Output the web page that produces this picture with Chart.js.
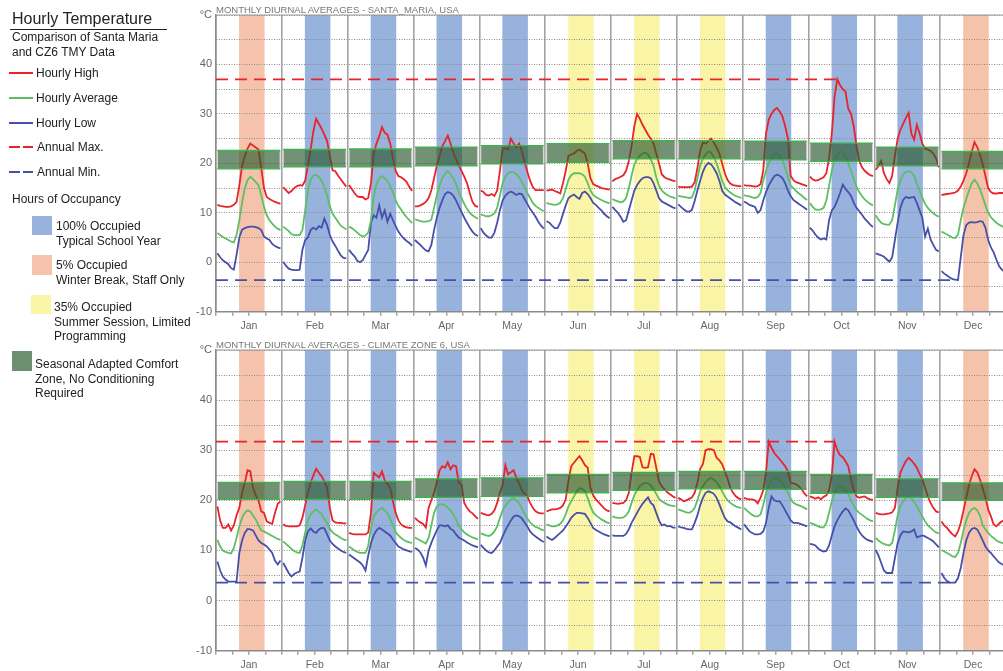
<!DOCTYPE html>
<html>
<head>
<meta charset="utf-8">
<script src="https://cdn.jsdelivr.net/npm/chart.js@4.4.0/dist/chart.umd.min.js"></script>
<style>
  html,body{margin:0;padding:0;background:#fff;overflow:hidden;width:1003px;height:671px;font-family:Arial,"Liberation Sans",sans-serif;color:#222}
  .lg{position:absolute;white-space:nowrap;font-size:12px;line-height:14.5px;z-index:2}
  .sw{position:absolute;z-index:2}
  .ptitle{position:absolute;left:216px;font-size:9.5px;color:#777;white-space:nowrap;z-index:2}
  canvas{position:absolute;left:150px}
</style>
</head>
<body>
<div id="legend">
  <div class="lg" style="left:12px;top:10px;font-size:16px;line-height:18px">Hourly Temperature</div>
  <div class="sw" style="left:10px;top:29px;width:157px;height:1px;background:#222"></div>
  <div class="lg" style="left:12px;top:30px">Comparison of Santa Maria<br>and CZ6 TMY Data</div>

  <div class="sw" style="left:9px;top:72px;width:24px;height:2px;background:#e8232a"></div>
  <div class="lg" style="left:36px;top:66px">Hourly High</div>
  <div class="sw" style="left:9px;top:97px;width:24px;height:2px;background:#5cbf62"></div>
  <div class="lg" style="left:36px;top:91px">Hourly Average</div>
  <div class="sw" style="left:9px;top:122px;width:24px;height:2px;background:#4650a8"></div>
  <div class="lg" style="left:36px;top:116px">Hourly Low</div>
  <div class="sw" style="left:9px;top:146px;width:11px;height:2px;background:#e8232a"></div>
  <div class="sw" style="left:23px;top:146px;width:10px;height:2px;background:#e8232a"></div>
  <div class="lg" style="left:37px;top:140px">Annual Max.</div>
  <div class="sw" style="left:9px;top:171px;width:11px;height:2px;background:#4650a8"></div>
  <div class="sw" style="left:23px;top:171px;width:10px;height:2px;background:#4650a8"></div>
  <div class="lg" style="left:37px;top:165px">Annual Min.</div>

  <div class="lg" style="left:12px;top:192px">Hours of Occupancy</div>
  <div class="sw" style="left:32px;top:216px;width:20px;height:19px;background:#98b2de"></div>
  <div class="lg" style="left:56px;top:219px">100% Occupied<br>Typical School Year</div>
  <div class="sw" style="left:32px;top:255px;width:20px;height:20px;background:#f5c3ab"></div>
  <div class="lg" style="left:56px;top:258px">5% Occupied<br>Winter Break, Staff Only</div>
  <div class="sw" style="left:31px;top:295px;width:20px;height:19px;background:#faf5a6"></div>
  <div class="lg" style="left:54px;top:300px">35% Occupied<br>Summer Session, Limited<br>Programming</div>
  <div class="sw" style="left:12px;top:351px;width:20px;height:20px;background:#6e8e71"></div>
  <div class="lg" style="left:35px;top:357px">Seasonal Adapted Comfort<br>Zone, No Conditioning<br>Required</div>
</div>

<div class="ptitle" style="top:4px">MONTHLY DIURNAL AVERAGES - SANTA_MARIA, USA</div>
<div class="ptitle" style="top:339px">MONTHLY DIURNAL AVERAGES - CLIMATE ZONE 6, USA</div>

<canvas id="topChart" width="860" height="340" style="top:0"></canvas>
<canvas id="botChart" width="860" height="336" style="top:335px"></canvas>

<script>
// ---- data (°C, 24 hourly values per month) ----
const monthLabels = ['Jan','Feb','Mar','Apr','May','Jun','Jul','Aug','Sep','Oct','Nov','Dec'];
// occupancy type per month: school / winter / summer
const occupancy = ['winter','school','school','school','school','summer','summer','summer','school','school','school','winter'];

// Santa Maria
const smHigh = [
  [11.6,11.4,11.3,11.2,11.2,11.3,11.6,12.2,15.5,19.5,21.5,23.0,24.0,23.6,23.2,22.8,19.0,15.0,13.2,12.8,12.5,12.2,12.0,11.8],
  [15.2,14.6,14.0,14.4,15.0,15.4,15.6,15.5,16.5,19.5,22.8,26.5,29.0,28.0,27.0,25.8,24.5,21.5,18.6,18.4,17.5,16.8,16.0,15.3],
  [15.6,14.8,14.0,13.3,13.2,13.2,12.7,13.0,16.0,22.0,24.0,25.5,27.3,26.2,25.8,24.0,21.0,18.5,17.4,17.2,16.8,16.2,15.2,14.4],
  [11.3,11.3,11.5,11.8,12.2,13.0,14.5,17.0,19.5,21.5,23.5,24.5,25.6,24.0,22.2,20.8,19.6,18.5,17.3,16.0,14.0,12.2,11.4,11.2],
  [14.5,14.2,13.6,13.5,13.8,13.4,14.5,18.5,23.0,23.0,22.8,25.0,24.0,23.3,24.0,22.5,20.2,18.3,16.5,15.2,14.6,14.6,14.6,14.6],
  [14.5,14.6,14.7,14.4,14.2,13.9,16.0,18.5,21.5,21.8,22.0,22.5,22.8,22.4,22.0,20.0,17.0,15.8,15.5,15.3,15.0,14.9,14.8,14.7],
  [16.4,16.8,17.0,17.3,17.6,18.5,20.5,23.5,27.5,30.0,29.0,27.8,26.8,25.8,25.0,24.0,22.0,20.0,17.8,17.2,16.9,16.7,16.5,16.4],
  [15.3,15.2,15.2,15.2,15.2,15.3,16.2,19.0,22.5,24.2,24.0,24.5,25.0,24.2,23.2,22.0,20.0,18.0,16.6,15.9,15.6,15.5,15.4,15.4],
  [15.6,15.5,15.5,15.4,15.3,15.4,15.8,18.5,26.0,28.8,30.0,30.8,31.2,30.5,29.5,27.5,25.0,17.5,16.6,16.2,16.0,15.8,15.6,15.4],
  [17.3,16.8,16.5,16.6,16.9,17.2,18.0,21.0,26.0,33.5,37.0,35.8,35.0,34.5,31.0,30.0,27.5,23.5,20.5,19.2,18.5,18.0,17.6,17.4],
  [18.7,19.4,20.5,18.0,16.8,16.0,17.5,21.5,25.0,26.8,28.0,29.2,30.2,26.0,24.8,27.8,26.1,24.0,23.0,22.8,22.5,22.0,21.0,19.2],
  [13.6,13.7,13.8,13.9,14.0,14.1,14.5,15.3,16.5,18.0,20.0,22.3,24.3,23.3,21.8,19.8,17.5,15.0,14.2,13.9,13.9,14.0,14.0,14.0]
];
const smAvg = [
  [5.9,5.5,5.1,4.8,4.5,4.2,4.0,5.5,8.5,12.0,15.0,16.6,17.3,16.8,16.2,15.6,13.5,11.2,9.5,8.5,7.8,7.2,6.8,6.5],
  [7.2,6.8,6.3,5.7,5.5,5.5,5.5,6.5,10.5,14.5,16.7,17.5,17.7,17.2,16.5,15.2,13.5,11.3,9.8,9.0,8.2,7.4,7.0,6.6],
  [7.2,6.9,6.5,6.0,5.5,5.2,5.4,6.0,8.5,13.3,15.8,17.0,17.4,17.0,16.4,15.4,14.2,12.5,11.4,10.6,9.8,9.1,8.5,7.9],
  [8.7,8.5,8.3,8.2,8.2,8.3,8.6,11.0,13.5,15.5,17.0,18.0,18.4,17.8,17.0,15.8,14.2,13.0,11.8,10.8,10.0,9.5,9.1,8.8],
  [9.7,9.5,9.3,9.3,9.5,9.9,11.0,13.5,16.0,17.3,18.0,18.3,18.2,17.8,17.2,16.2,15.2,14.0,13.0,12.0,11.4,11.0,10.6,10.3],
  [12.0,11.8,11.7,11.6,11.7,12.0,13.0,14.8,16.7,17.6,18.0,18.0,18.0,17.8,17.3,16.0,14.5,13.6,13.2,12.9,12.6,12.3,12.1,11.9],
  [12.8,12.5,12.3,12.1,12.3,13.0,15.0,17.5,19.8,20.8,21.5,22.0,22.2,21.8,20.8,19.5,17.2,15.5,14.5,14.0,13.6,13.3,13.1,12.9],
  [13.4,13.3,13.2,13.1,13.0,13.1,14.5,17.0,19.5,21.0,21.8,22.4,22.2,21.2,20.0,18.3,16.5,15.2,14.6,14.1,13.7,13.4,13.2,13.0],
  [13.6,13.4,13.3,13.1,13.0,13.2,14.0,16.5,18.5,20.0,21.0,21.8,22.1,21.5,20.6,19.0,17.2,15.5,15.0,14.4,13.9,13.5,13.0,12.6],
  [12.0,11.2,10.7,10.6,10.7,11.0,12.5,15.5,18.5,20.5,21.8,22.4,22.2,21.3,20.0,18.5,16.8,15.3,14.2,13.4,12.7,12.2,11.8,11.5],
  [9.5,8.6,8.0,7.7,7.6,7.6,8.5,11.5,14.7,16.5,17.7,18.3,18.4,18.2,17.5,15.8,14.5,13.0,11.8,11.0,10.4,9.9,9.5,9.2],
  [6.2,5.9,5.6,5.3,5.0,4.9,5.6,8.5,11.0,12.8,14.5,16.0,16.7,16.0,14.8,13.2,11.5,10.0,9.1,8.5,8.0,7.6,7.3,7.0]
];
const smLow = [
  [1.8,1.0,0.4,0.0,-0.4,-1.2,-1.5,1.5,5.0,6.6,6.9,7.1,7.2,7.2,7.1,6.9,6.5,5.2,4.8,4.5,3.7,3.3,3.0,2.8],
  [0.1,-0.7,-1.3,-1.5,-1.6,-1.6,-1.5,2.5,4.5,5.0,6.5,7.0,6.6,7.3,7.0,8.8,7.5,5.5,4.2,3.3,2.3,1.4,0.9,0.8],
  [2.5,1.8,1.2,0.3,0.0,0.4,1.5,2.5,8.0,9.5,9.0,11.5,9.0,10.5,8.2,9.8,8.5,7.3,6.2,5.4,4.8,4.3,3.9,3.3],
  [4.5,4.0,3.5,2.9,2.4,2.2,3.5,6.5,9.0,11.0,12.5,13.8,14.2,14.0,13.5,12.5,11.3,10.2,9.0,8.0,7.0,6.2,5.6,5.3],
  [6.9,6.0,5.4,5.0,5.0,6.0,8.0,10.5,12.5,13.5,14.0,14.3,14.0,13.6,13.9,13.8,12.8,11.8,10.8,10.0,9.2,8.2,7.4,6.8],
  [8.3,8.0,7.4,6.9,6.9,8.0,9.8,11.5,13.0,13.4,13.7,13.2,12.8,14.0,14.3,13.8,13.0,12.0,11.6,11.0,10.5,9.8,9.3,8.9],
  [11.2,10.6,10.0,9.2,8.2,8.5,10.5,12.5,14.5,15.6,16.4,17.0,17.2,17.2,17.0,16.0,14.5,13.0,12.3,12.0,11.7,11.4,11.1,10.9],
  [11.7,11.2,10.7,10.3,10.2,10.6,12.4,14.5,16.5,18.3,19.5,20.1,19.8,19.0,18.0,16.5,14.5,13.7,13.3,12.9,12.5,12.1,11.8,11.5],
  [12.3,12.0,11.6,11.4,11.2,10.0,10.5,12.5,14.2,15.5,16.5,17.4,17.7,17.5,17.0,16.0,14.5,13.4,12.6,12.2,11.8,11.4,11.0,10.6],
  [7.0,6.4,5.6,5.0,4.6,4.8,4.6,8.5,10.5,11.2,12.5,14.0,15.7,14.8,14.2,13.4,12.0,11.0,10.3,9.6,8.8,8.2,7.6,7.1],
  [1.8,1.6,1.4,1.1,0.6,0.1,1.0,4.5,8.0,11.0,12.6,13.2,13.0,13.1,13.2,12.0,10.5,9.0,5.2,6.8,4.6,3.5,2.5,2.2],
  [-1.8,-2.3,-2.7,-3.1,-3.4,-3.5,-3.6,1.0,5.5,7.5,8.0,8.1,8.0,8.1,8.3,8.2,7.0,4.5,3.0,2.0,0.5,-0.8,-1.5,-2.0]
];
const smComfortLo = [18.9,19.3,19.3,19.5,19.9,20.2,20.9,20.9,20.7,20.4,19.5,18.9];
const smComfortHi = [22.6,22.8,22.9,23.3,23.6,24.0,24.6,24.6,24.5,24.1,23.3,22.4];

// Climate Zone 6
const czHigh = [
  [18.8,16.0,14.5,14.5,15.2,14.0,15.0,17.0,18.5,21.5,23.5,26.0,25.8,22.5,21.0,20.0,17.8,17.5,15.8,15.5,15.3,17.5,19.3,19.8],
  [15.2,14.9,14.8,14.8,14.8,14.8,15.0,16.5,19.0,21.5,23.5,25.0,26.3,25.5,24.8,23.8,22.5,18.5,16.0,15.6,15.5,15.5,15.4,15.4],
  [13.5,13.3,13.2,13.2,13.2,13.2,13.2,13.6,17.5,25.5,25.0,24.6,25.8,24.0,23.3,22.5,19.8,17.5,16.0,15.2,14.8,14.6,14.5,14.5],
  [16.5,16.0,15.6,15.3,14.6,18.5,20.0,21.5,23.5,26.0,26.8,26.5,27.6,26.2,27.0,26.8,23.5,23.2,19.5,18.5,17.8,17.4,16.8,16.3],
  [17.5,17.3,17.1,17.0,17.3,18.0,19.5,21.5,23.0,27.0,25.2,25.6,26.0,24.5,23.4,22.0,21.3,20.8,19.5,18.5,17.8,17.5,17.4,17.4],
  [17.8,18.0,18.2,18.2,18.3,18.5,19.0,20.2,24.0,26.8,27.5,28.2,28.8,28.0,27.0,26.5,22.5,21.0,20.2,19.6,19.0,18.4,18.0,17.8],
  [19.5,19.4,19.3,19.4,19.5,20.0,21.5,25.5,28.8,28.8,28.7,26.6,26.5,26.6,29.3,29.2,26.5,23.8,22.8,22.2,21.6,21.2,20.8,20.5],
  [20.5,20.2,19.8,20.0,20.3,20.6,21.5,23.5,26.3,27.2,30.0,30.2,30.2,30.0,28.5,28.0,27.2,25.8,24.3,22.5,21.5,20.8,20.4,20.2],
  [20.5,20.3,20.2,20.2,20.0,19.4,20.5,22.0,25.5,31.7,30.5,29.5,28.8,28.2,27.5,26.8,25.8,23.5,23.4,23.2,22.8,22.2,21.4,20.8],
  [20.8,20.6,20.3,20.6,20.2,20.7,21.0,22.0,25.0,31.7,30.0,29.0,28.6,27.8,26.8,24.2,22.0,20.8,20.5,20.7,20.8,20.4,20.2,20.1],
  [17.5,17.3,17.2,17.2,17.3,17.4,17.6,18.5,22.5,25.5,26.8,27.8,28.5,28.0,27.3,26.5,25.3,24.2,22.5,20.8,19.5,18.5,17.8,17.6],
  [15.8,15.0,14.5,13.8,13.2,12.8,13.8,15.5,18.0,20.5,23.0,24.8,26.2,25.6,24.2,22.4,20.5,18.2,16.8,15.2,14.8,15.4,15.8,16.0]
];
const czAvg = [
  [12.1,10.8,10.0,9.7,9.5,9.4,10.5,12.5,14.8,16.5,17.5,18.0,17.8,17.0,16.2,15.0,14.0,13.8,13.5,13.2,12.9,12.6,12.3,12.1],
  [11.8,11.3,10.8,10.3,9.9,9.6,9.5,11.0,13.5,16.0,17.2,17.8,18.2,17.7,17.2,16.3,15.5,14.3,13.6,13.2,12.9,12.5,12.2,12.0],
  [10.8,10.4,10.0,9.7,9.5,9.5,9.5,11.0,14.5,16.8,17.6,18.2,18.5,18.0,17.4,16.3,15.0,13.6,13.0,12.5,12.1,11.8,11.6,11.5],
  [12.6,12.3,12.0,11.7,11.4,12.5,15.0,17.5,18.8,19.2,19.2,19.0,18.6,18.0,17.2,16.2,15.0,14.2,13.6,13.2,12.9,12.6,12.4,12.2],
  [13.4,13.2,13.0,12.9,13.2,13.8,14.8,16.5,18.0,18.9,19.6,20.2,20.5,20.0,19.4,18.4,17.4,16.4,15.6,15.1,14.7,14.5,14.2,14.0],
  [15.2,15.0,14.8,14.8,15.0,15.3,16.0,17.2,18.8,19.8,20.8,21.8,22.4,22.3,21.8,20.5,18.8,17.6,17.0,16.6,16.2,15.9,15.6,15.4],
  [16.8,16.6,16.5,16.5,16.6,17.0,17.8,19.5,21.0,22.0,22.8,23.3,23.5,23.4,23.0,22.2,21.3,20.3,19.8,19.5,19.2,19.0,18.9,18.8],
  [18.2,18.0,17.8,17.6,17.5,17.8,18.5,20.0,21.8,22.8,23.6,24.2,24.5,24.1,23.6,22.8,21.8,20.8,20.0,19.5,19.1,18.8,18.6,18.5],
  [18.5,18.0,17.5,17.1,16.8,16.8,17.2,19.0,21.5,23.0,24.0,24.4,24.5,24.0,23.4,22.5,21.5,20.3,19.5,19.2,19.0,18.8,18.5,18.2],
  [15.5,15.3,15.1,14.8,14.6,14.6,15.5,17.5,19.8,21.5,22.3,22.8,22.7,22.0,21.3,20.0,19.0,18.0,17.5,17.1,16.7,16.3,16.0,15.8],
  [12.5,12.0,11.6,11.3,11.1,11.0,11.5,14.0,17.0,18.8,19.8,20.5,20.8,20.4,19.7,18.8,17.8,16.8,15.8,15.0,14.5,14.0,13.6,13.4],
  [10.1,9.8,9.5,9.2,8.8,8.7,9.5,11.5,14.0,16.0,17.5,18.2,18.5,18.0,17.0,15.0,14.2,13.5,12.9,12.5,12.0,11.7,11.5,11.3]
];
const czLow = [
  [7.8,6.0,4.8,4.2,3.8,3.8,3.8,3.8,9.5,12.0,13.5,14.3,14.2,14.0,13.0,12.0,11.5,11.2,10.8,10.2,9.5,8.0,7.2,8.0],
  [7.5,6.5,5.5,4.8,5.3,5.6,5.8,8.5,12.0,13.8,14.4,13.8,13.5,14.2,14.5,14.4,13.2,12.0,11.3,10.8,10.4,10.0,9.7,9.5],
  [9.2,8.8,8.4,8.0,7.6,7.0,6.0,9.0,11.5,13.0,14.0,14.5,14.2,13.8,13.4,13.0,12.2,11.5,10.8,10.5,10.2,10.0,9.8,9.7],
  [10.5,10.2,9.6,8.6,7.0,10.0,11.5,12.8,14.0,15.0,15.0,14.8,15.0,14.3,14.0,13.2,12.6,12.3,12.0,11.6,11.3,11.0,10.8,10.6],
  [11.1,10.5,10.0,9.6,9.5,10.0,10.8,11.5,12.8,14.0,15.0,16.0,16.8,17.0,16.8,16.4,15.6,14.8,13.8,13.2,12.8,12.4,12.0,11.7],
  [12.8,12.4,12.1,12.5,13.0,13.5,14.0,14.8,15.6,16.5,17.1,17.5,17.5,17.4,17.3,16.5,15.5,14.5,14.1,13.8,13.5,13.2,13.0,12.8],
  [13.0,12.9,12.9,12.9,12.9,13.3,14.2,15.5,16.5,17.5,18.5,19.3,20.0,20.6,19.5,19.0,17.5,16.0,15.0,15.2,14.8,14.9,14.6,14.5],
  [14.8,14.6,14.5,14.3,14.2,14.2,15.5,17.0,19.0,20.5,21.5,21.8,21.6,21.3,20.5,19.2,17.8,16.5,15.8,15.6,15.2,14.8,14.5,14.2],
  [15.2,14.5,13.8,13.5,13.2,13.2,13.3,13.8,15.5,18.5,20.8,20.0,19.8,19.8,19.0,18.0,17.0,16.0,15.5,15.5,15.4,15.2,15.0,14.8],
  [11.3,11.2,11.0,10.4,10.0,9.8,9.9,11.0,13.0,14.8,16.0,17.0,17.8,18.4,18.0,17.0,16.0,14.8,13.8,13.0,12.5,12.1,11.9,11.7],
  [10.1,9.0,7.5,6.0,5.5,5.5,5.5,8.5,11.5,13.0,13.8,13.7,13.6,13.8,14.2,12.6,12.8,13.0,12.8,12.5,12.2,11.8,11.2,10.6],
  [5.5,4.5,3.9,3.6,3.6,3.6,4.5,6.5,9.5,12.0,13.5,14.3,14.5,14.2,13.2,12.0,10.8,10.0,9.5,8.8,8.2,7.6,7.3,7.0]
];
const czComfortLo = [20.2,20.2,20.2,20.6,20.8,21.5,22.0,22.3,22.2,21.4,20.6,20.0];
const czComfortHi = [23.6,23.8,23.8,24.3,24.5,25.2,25.6,25.8,25.8,25.2,24.3,23.5];

// ---- styles ----
const RED = '#e8232a', GREEN = '#5cbf62', BLUE = '#4650a8';
const OCC_COLORS = {school:'#98b2de', winter:'#f5c3ab', summer:'#faf5a6'};
const HOURS = 24;

function toPoints(months){
  const pts = [];
  months.forEach((vals, m) => {
    vals.forEach((v, h) => pts.push({x: m*HOURS + h + 0.5, y: v}));
    pts.push({x: m*HOURS + HOURS, y: null});
  });
  return pts;
}

// position of the annual extreme (last occurrence)
function extreme(months, isMax){
  let best = isMax ? -Infinity : Infinity, pos = 0;
  months.forEach((vals, m) => vals.forEach((v, h) => {
    if (isMax ? v >= best : v <= best){ best = v; pos = m*HOURS + h + 0.5; }
  }));
  return {value: best, x: pos};
}

function makePanel(canvasId, high, avg, low, comfortLo, comfortHi, axisHeight){
  const mx = extreme(high, true), mn = extreme(low, false);

  const bands = {
    id: 'bands',
    beforeDraw(chart){
      const {ctx, chartArea:a, scales:{x}} = chart;
      ctx.save();
      occupancy.forEach((t, m) => {
        const x0 = x.getPixelForValue(m*HOURS + 8.4), x1 = x.getPixelForValue(m*HOURS + 17.7);
        ctx.fillStyle = OCC_COLORS[t];
        ctx.fillRect(x0, a.top, x1 - x0, a.bottom - a.top);
      });
      ctx.restore();
    },
    afterDatasetsDraw(chart){
      const {ctx, scales:{x, y}} = chart;
      ctx.save();
      comfortLo.forEach((lo, m) => {
        const x0 = x.getPixelForValue(m*HOURS + 0.5), x1 = x.getPixelForValue(m*HOURS + 23.4);
        const y0 = y.getPixelForValue(comfortHi[m]), y1 = y.getPixelForValue(lo);
        ctx.fillStyle = 'rgba(43,90,45,0.66)';
        ctx.fillRect(x0, y0, x1 - x0, y1 - y0);
        ctx.strokeStyle = '#d6d6d6'; ctx.lineWidth = 1.2;
        ctx.beginPath(); ctx.moveTo(x0, y0); ctx.lineTo(x0, y1); ctx.moveTo(x1, y0); ctx.lineTo(x1, y1); ctx.stroke();
        ctx.strokeStyle = '#3cb44c'; ctx.lineWidth = 1.3;
        ctx.beginPath(); ctx.moveTo(x0, y0); ctx.lineTo(x1, y0); ctx.moveTo(x0, y1); ctx.lineTo(x1, y1); ctx.stroke();
      });
      ctx.restore();
    },
    afterDraw(chart){
      const {ctx, chartArea:a} = chart;
      ctx.save();
      ctx.strokeStyle = '#9a9a9a'; ctx.lineWidth = 1.2;
      ctx.beginPath(); ctx.moveTo(a.left, a.top); ctx.lineTo(a.right, a.top); ctx.stroke();
      ctx.restore();
    }
  };

  const line = (data, color, dash) => ({
    data, borderColor: color, borderWidth: 1.8, borderDash: dash || [],
    pointRadius: 0, tension: 0, fill: false, spanGaps: false
  });

  return new Chart(document.getElementById(canvasId), {
    type: 'line',
    data: {
      datasets: [
        line(toPoints(high), RED),
        line(toPoints(avg), GREEN),
        line(toPoints(low), BLUE),
        line([{x:0, y:mx.value}, {x:mx.x, y:mx.value}], RED, [12,7]),
        line([{x:0, y:mn.value}, {x:mn.x, y:mn.value}], BLUE, [12,7])
      ]
    },
    options: {
      responsive: false, animation: false, devicePixelRatio: 1,
      layout: {padding: {top: 15, right: 3.2, left: 0, bottom: 0}},
      plugins: {legend: {display: false}, tooltip: {enabled: false}},
      scales: {
        x: {
          type: 'linear', min: 0, max: 12*HOURS,
          afterFit: s => { s.height = axisHeight; },
          ticks: {
            stepSize: 6, autoSkip: false, maxRotation: 0, padding: 4,
            color: '#666', font: {family: 'Arial', size: 10.5},
            callback: v => (v % HOURS === 12) ? monthLabels[Math.floor(v / HOURS)] : ''
          },
          grid: {
            color: c => (c.tick && c.tick.value % HOURS === 0) ? '#a3a3a3' : 'rgba(0,0,0,0)',
            lineWidth: 1.6, tickColor: '#8a8a8a', tickLength: 4, tickWidth: 1.2
          },
          border: {display: true, color: '#8a8a8a', width: 1.5}
        },
        y: {
          min: -10, max: 50,
          afterFit: s => { s.width = 66; },
          ticks: {
            stepSize: 5, padding: 4, color: '#666', font: {family: 'Arial', size: 11},
            callback: v => v === 50 ? '°C' : (v % 10 === 0 ? String(v) : '')
          },
          grid: {color: '#8c8c8c', lineWidth: 1, drawTicks: false},
          border: {display: true, color: '#8a8a8a', width: 1.5, dash: [1,1.5]}
        }
      }
    },
    plugins: [bands]
  });
}

makePanel('topChart', smHigh, smAvg, smLow, smComfortLo, smComfortHi, 28.3);
makePanel('botChart', czHigh, czAvg, czLow, czComfortLo, czComfortHi, 20.3);
</script>
</body>
</html>
